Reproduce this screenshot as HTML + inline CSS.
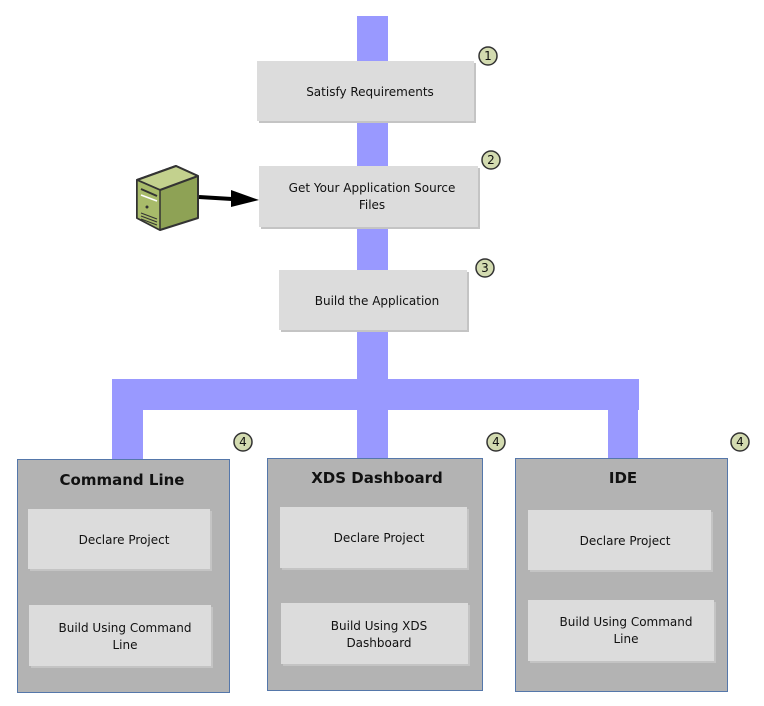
<!DOCTYPE html>
<html><head><meta charset="utf-8"><style>
html,body{margin:0;padding:0;background:#fff;}
svg{display:block;}
text{font-family:"DejaVu Sans","Liberation Sans",sans-serif;font-size:12px;fill:#111;}
.t{font-weight:bold;font-size:15px;}
.b{fill:#dcdcdc;}
.sh{fill:#c4c4c4;}
.c{fill:#b3b3b3;stroke:#5577aa;stroke-width:1;}
.badge circle{fill:#d3dbb0;stroke:#333;stroke-width:1.5;}
.badge text{font-size:12px;}
</style></head><body>
<svg width="764" height="706" viewBox="0 0 764 706" xmlns="http://www.w3.org/2000/svg">
<g fill="#9999ff">
<rect x="357" y="16" width="31" height="442"/>
<rect x="112" y="379" width="527" height="31"/>
<rect x="112" y="379" width="31" height="80"/>
<rect x="608" y="379" width="30" height="80"/>
</g>
<rect class="sh" x="259" y="63" width="217" height="60"/><rect class="b" x="257" y="61" width="217" height="60"/>
<text x="370" y="96" text-anchor="middle">Satisfy Requirements</text>
<rect class="sh" x="261" y="168" width="219" height="61"/><rect class="b" x="259" y="166" width="219" height="61"/>
<text x="372" y="192" text-anchor="middle">Get Your Application Source</text>
<text x="372" y="209" text-anchor="middle">Files</text>
<rect class="sh" x="281" y="272" width="188" height="60"/><rect class="b" x="279" y="270" width="188" height="60"/>
<text x="377" y="305" text-anchor="middle">Build the Application</text>
<g stroke="#333" stroke-width="2" stroke-linejoin="round">
<polygon points="137,180 176,166 198,176 198,218 160,230 137,218" fill="#8ea255"/>
<polygon points="137,180 176,166 198,176 160,190" fill="#c3d18e"/>
<polygon points="137,180 160,190 160,230 137,218" fill="#a8bb6a" stroke-width="1.5"/>
</g>
<line x1="141" y1="189" x2="157" y2="196" stroke="#333" stroke-width="2"/>
<line x1="141" y1="195" x2="157" y2="201" stroke="#fff" stroke-width="1.5"/>
<circle cx="147" cy="207" r="1.5" fill="#333"/>
<g stroke="#333" stroke-width="1"><line x1="141" y1="213" x2="157" y2="219"/><line x1="141" y1="216" x2="157" y2="222"/><line x1="141" y1="219" x2="157" y2="225"/></g>
<line x1="199" y1="197" x2="232" y2="199" stroke="#000" stroke-width="4"/>
<polygon points="231,190 259,200 231,207" fill="#000"/>
<rect class="c" x="17.5" y="459.5" width="212" height="233"/>
<text class="t" x="122" y="485" text-anchor="middle">Command Line</text>
<rect class="sh" x="30" y="511" width="182" height="60"/><rect class="b" x="28" y="509" width="182" height="60"/>
<text x="124" y="544" text-anchor="middle">Declare Project</text>
<rect class="sh" x="31" y="607" width="182" height="61"/><rect class="b" x="29" y="605" width="182" height="61"/>
<text x="125" y="632" text-anchor="middle">Build Using Command</text>
<text x="125" y="649" text-anchor="middle">Line</text>
<rect class="c" x="267.5" y="458.5" width="215" height="232"/>
<text class="t" x="377" y="483" text-anchor="middle">XDS Dashboard</text>
<rect class="sh" x="282" y="509" width="187" height="61"/><rect class="b" x="280" y="507" width="187" height="61"/>
<text x="379" y="542" text-anchor="middle">Declare Project</text>
<rect class="sh" x="283" y="605" width="187" height="61"/><rect class="b" x="281" y="603" width="187" height="61"/>
<text x="379" y="630" text-anchor="middle">Build Using XDS</text>
<text x="379" y="647" text-anchor="middle">Dashboard</text>
<rect class="c" x="515.5" y="458.5" width="212" height="233"/>
<text class="t" x="623" y="483" text-anchor="middle">IDE</text>
<rect class="sh" x="530" y="512" width="183" height="60"/><rect class="b" x="528" y="510" width="183" height="60"/>
<text x="625" y="545" text-anchor="middle">Declare Project</text>
<rect class="sh" x="530" y="602" width="186" height="61"/><rect class="b" x="528" y="600" width="186" height="61"/>
<text x="626" y="626" text-anchor="middle">Build Using Command</text>
<text x="626" y="643" text-anchor="middle">Line</text>
<g class="badge">
<circle cx="488" cy="56" r="9"/><text x="488" y="60" text-anchor="middle">1</text>
<circle cx="491" cy="160" r="9"/><text x="491" y="164" text-anchor="middle">2</text>
<circle cx="485" cy="268" r="9"/><text x="485" y="272" text-anchor="middle">3</text>
<circle cx="243" cy="442" r="9"/><text x="243" y="446" text-anchor="middle">4</text>
<circle cx="496" cy="442" r="9"/><text x="496" y="446" text-anchor="middle">4</text>
<circle cx="740" cy="442" r="9"/><text x="740" y="446" text-anchor="middle">4</text>
</g>
</svg>
</body></html>
